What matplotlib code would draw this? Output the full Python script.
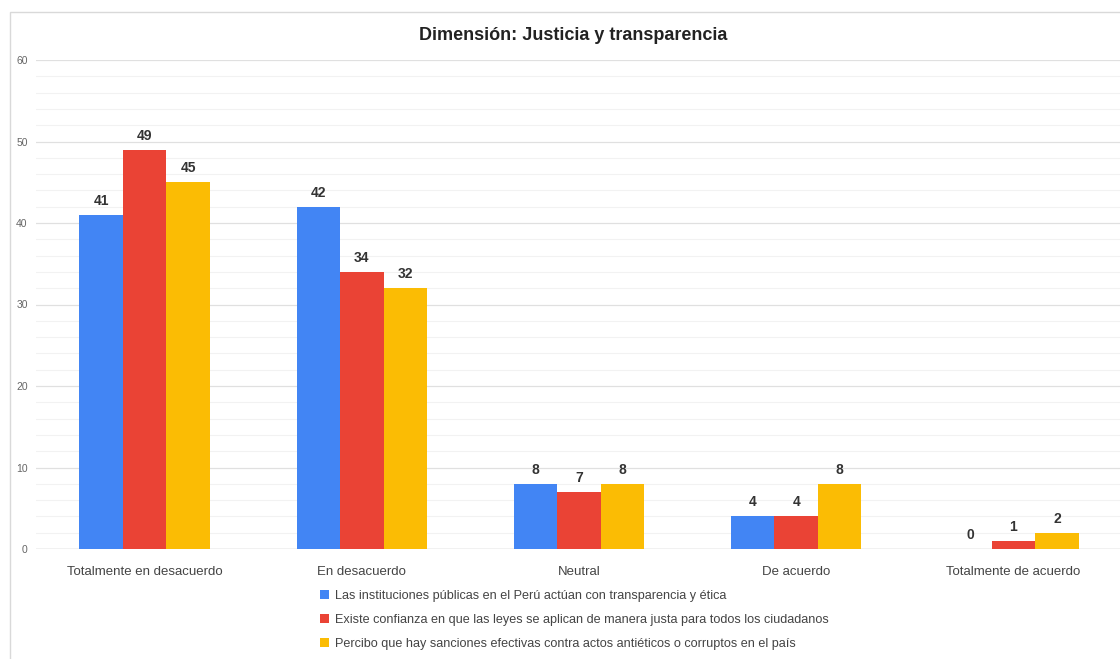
import matplotlib
matplotlib.use("Agg")
import matplotlib.pyplot as plt
from matplotlib.patches import Rectangle, Patch
from matplotlib.ticker import MultipleLocator
import numpy as np

plt.rcParams['font.family'] = ['Liberation Sans', 'DejaVu Sans']

title = "Dimensión: Justicia y transparencia"
categories = ["Totalmente en desacuerdo", "En desacuerdo", "Neutral", "De acuerdo", "Totalmente de acuerdo"]
series_names = [
    "Las instituciones públicas en el Perú actúan con transparencia y ética",
    "Existe confianza en que las leyes se aplican de manera justa para todos los ciudadanos",
    "Percibo que hay sanciones efectivas contra actos antiéticos o corruptos en el país",
]
series_values = [
    [41, 42, 8, 4, 0],
    [49, 34, 7, 4, 1],
    [45, 32, 8, 8, 2],
]
colors = ["#4285F4", "#EA4335", "#FBBC04"]

W, H = 1120, 659
fig = plt.figure(figsize=(W / 100, H / 100), dpi=100)
fig.patch.set_facecolor("white")

# outer frame
fig.add_artist(Rectangle((10 / W, -0.05), 1.2, (H - 12) / H + 0.05, transform=fig.transFigure,
                         fill=False, edgecolor="#d9d9d9", linewidth=1.0))

left, right = 36 / W, 1122 / W
bottom, top = (H - 549) / H, (H - 60) / H
ax = fig.add_axes([left, bottom, right - left, top - bottom])

x = np.arange(len(categories))
bw = 0.2
for i, (vals, c) in enumerate(zip(series_values, colors)):
    pos = x + (i - 1) * bw
    ax.bar(pos, vals, width=bw, color=c, zorder=3, linewidth=0)
    for p, v in zip(pos, vals):
        ax.annotate(str(v), (p, v), xytext=(0, 5), textcoords="offset points",
                    ha="center", va="bottom", fontsize=10, fontweight="bold", color="#333333")

ax.set_xlim(-0.5, len(categories) - 0.5)
ax.set_ylim(0, 60)
ax.yaxis.set_major_locator(MultipleLocator(10))
ax.yaxis.set_minor_locator(MultipleLocator(2))
ax.grid(axis="y", which="major", color="#e0e0e0", linewidth=0.9, zorder=0)
ax.grid(axis="y", which="minor", color="#f2f2f2", linewidth=0.8, zorder=0)
ax.axhline(0, color="#cccccc", linewidth=1, zorder=2)
for s in ax.spines.values():
    s.set_visible(False)
ax.tick_params(axis="y", which="both", length=0, labelsize=7.5, labelcolor="#666666", pad=6)
ax.tick_params(axis="x", length=0, labelsize=9.5, labelcolor="#444444", pad=12)
ax.set_xticks(x)
ax.set_xticklabels(categories)

fig.text(573 / W, (H - 35) / H, title, ha="center", va="center", fontsize=13,
         fontweight="bold", color="#222222")

handles = [Patch(facecolor=c, edgecolor="none") for c in colors]
fig.legend(handles, series_names, loc="upper left", bbox_to_anchor=(320 / W, (H - 590) / H),
           frameon=False, fontsize=9.1, handlelength=0.75, handleheight=0.75,
           handletextpad=0.4, labelspacing=0.95, labelcolor="#444444", borderpad=0, borderaxespad=0)

fig.savefig("out.png", dpi=100)
